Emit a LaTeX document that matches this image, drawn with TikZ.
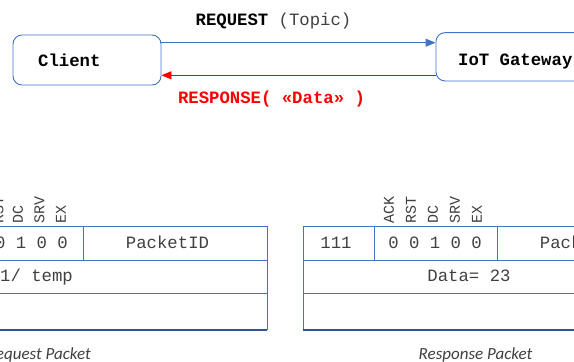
\documentclass[tikz,border=0pt]{standalone}
\usepackage{fontspec}
\setmainfont{Liberation Serif}
\newfontfamily\courfont{Liberation Mono}
\newfontfamily\capfont{Carlito}
\usetikzlibrary{arrows.meta}
\definecolor{boxblue}{RGB}{68,114,196}
\definecolor{darkblue}{RGB}{47,85,151}
\definecolor{arrred}{RGB}{255,0,0}
\definecolor{txtgray}{RGB}{64,64,64}
\begin{document}
\begin{tikzpicture}[x=1pt,y=-1pt,
  box/.style={draw=boxblue, line width=0.9pt, rounded corners=9pt, inner sep=0pt},
  mono/.style={font=\courfont\fontsize{17.3}{20}\selectfont, inner sep=0pt},
  flag/.style={font=\courfont\fontsize{15}{18}\selectfont, inner sep=0pt, rotate=90, anchor=west, text=txtgray},
  cell/.style={font=\courfont\fontsize{17.3}{20}\selectfont, inner sep=0pt, anchor=base, text=txtgray},
  tbl/.style={draw=boxblue, line width=0.9pt},
  tblbot/.style={draw=darkblue, line width=1.1pt},
  reqarrow/.style={draw=boxblue, line width=0.9pt, -{Triangle[length=10pt,width=8pt]}},
  resparrow/.style={draw=arrred, line width=0.9pt, -{Triangle[length=10pt,width=8pt]}},
  capt/.style={font=\capfont\itshape\fontsize{17}{20}\selectfont, inner sep=0pt, text=txtgray}
]
\useasboundingbox (0,0) rectangle (574,362);
\clip (0,0) rectangle (574,362);

% boxes
\node[box, minimum width=148pt, minimum height=50pt] (client) at (87,60) {};
\node[box, minimum width=164pt, minimum height=48.3pt] (gw) at (518,56.8) {};
\node[mono, anchor=base west] (clienttxt) at (38,66.5) {\bfseries Client};
\node[mono, anchor=base west] (gwtxt) at (458,65) {\bfseries IoT Gateway};

% connectors
\draw[reqarrow] ([yshift=17.3pt]client.east) -- ([yshift=14.1pt]gw.west);
\draw[resparrow] ([yshift=-18.5pt]gw.west) -- ([yshift=-15.3pt]client.east);
\node[mono, anchor=base] (reqlbl) at (273.5,25.5) {\textbf{REQUEST}~\textcolor{txtgray}{(Topic)}};
\node[mono, anchor=base, text=arrred] (resplbl) at (271.5,103) {\bfseries RESPONSE( «Data» )};

% left packet (request)
\draw[tbl] (267,330) -- (267,226) -- (-120,226);
\draw[tbl] (-120,260) -- (267,260);
\draw[tbl] (-120,293) -- (267,293);
\draw[tbl] (83,226) -- (83,260);
\draw[tblbot] (-120,330) -- (267.45,330);
\node[flag] (lrst) at (-1.5,224) {RST};
\node[flag] (ldc) at (18,224) {DC};
\node[flag] (lsrv) at (39.5,224) {SRV};
\node[flag] (lex) at (61,224) {EX};
\node[cell] (lbits) at (31.5,248) {0 1 0 0};
\node[cell] (lpid) at (167.5,248) {PacketID};
\node[cell, anchor=base east] (ltopic) at (73,281) {1/ temp};
\node[capt, anchor=base east] (reqcap) at (91,359.5) {Request Packet};

% right packet (response)
\draw[tbl] (303,330) -- (303,226) -- (690,226);
\draw[tbl] (303,260) -- (690,260);
\draw[tbl] (303,293) -- (690,293);
\draw[tbl] (374,226) -- (374,260);
\draw[tbl] (497,226) -- (497,260);
\draw[tblbot] (302.55,330) -- (690,330);
\node[flag] (rack) at (389,224) {ACK};
\node[flag] (rrst) at (411,224) {RST};
\node[flag] (rdc) at (433,224) {DC};
\node[flag] (rsrv) at (455,224) {SRV};
\node[flag] (rex) at (477,224) {EX};
\node[cell] (rcode) at (336,248) {111};
\node[cell] (rbits) at (435,248) {0 0 1 0 0};
\node[cell] (rpid) at (581.5,248) {PacketID};
\node[cell] (rdata) at (469,281) {Data= 23};
\node[capt, anchor=base] (respcap) at (475.5,359.5) {Response Packet};
\end{tikzpicture}
\end{document}
